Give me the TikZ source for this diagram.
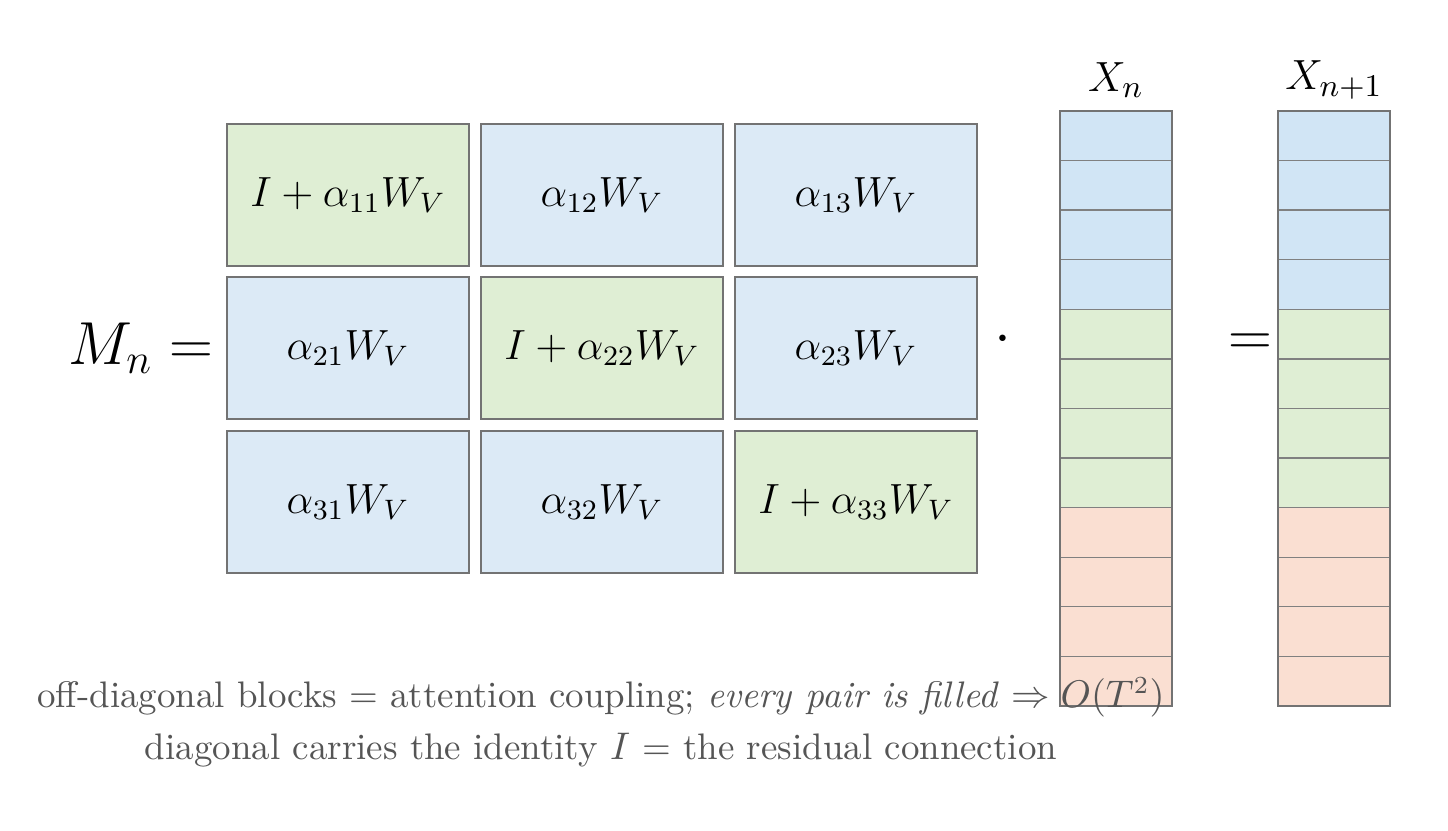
\documentclass[tikz,border=0pt]{standalone}
\usepackage{amssymb}
\begin{document}
\begin{tikzpicture}[x=0.01cm,y=-0.01cm,
  blk/.style={draw=black!55,line width=0.5pt},
  gb/.style={blk,fill=grn},
  bb/.style={blk,fill=blu},
  cell/.style={draw=black!50,line width=0.4pt},
  mt/.style={font=\fontsize{11.5}{14}\selectfont}]
\definecolor{grn}{HTML}{DFEED4}
\definecolor{blu}{HTML}{DCEAF6}
\definecolor{vblu}{HTML}{D1E5F5}
\definecolor{org}{HTML}{FADFD2}
\definecolor{txt}{HTML}{555555}
\useasboundingbox (0,0) rectangle (1448,831);
% matrix blocks
\foreach \r/\yt/\yb in {1/124/266,2/277/419,3/431/573}{
 \foreach \c/\xl/\xr in {1/227/469,2/481/723,3/735/977}{
  \ifnum\r=\c
   \draw[gb] (\xl,\yt) rectangle (\xr,\yb) node[midway,mt] (b\r\c) {};
  \else
   \draw[bb] (\xl,\yt) rectangle (\xr,\yb) node[midway,mt] (b\r\c) {};
  \fi
 }}
\node[mt] at (348,195) {$I+\alpha_{11}W_V$};
\node[mt] at (602,195) {$\alpha_{12}W_V$};
\node[mt] at (856,195) {$\alpha_{13}W_V$};
\node[mt] at (348,348) {$\alpha_{21}W_V$};
\node[mt] at (602,348) {$I+\alpha_{22}W_V$};
\node[mt] at (856,348) {$\alpha_{23}W_V$};
\node[mt] at (348,502) {$\alpha_{31}W_V$};
\node[mt] at (602,502) {$\alpha_{32}W_V$};
\node[mt] at (856,502) {$I+\alpha_{33}W_V$};
\node[font=\fontsize{16.5}{20}\selectfont] (mn) at (141,348) {$M_n=$};
\node[font=\fontsize{16}{20}\selectfont] (dot) at (1003,340) {$\cdot$};
\node[font=\fontsize{16.5}{20}\selectfont] (eq) at (1250,345) {$=$};
% vectors
\foreach \xl/\nm in {1060/xn,1278/xm}{
 \foreach \i in {0,...,11}{
  \pgfmathsetmacro\yt{111+\i*49.58}
  \pgfmathsetmacro\yb{111+(\i+1)*49.58}
  \ifnum\i<4 \def\fc{vblu}\else\ifnum\i<8 \def\fc{grn}\else\def\fc{org}\fi\fi
  \draw[cell,fill=\fc] (\xl,\yt) rectangle ({\xl+112},\yb);
 }
 \draw[blk] (\xl,111) rectangle ({\xl+112},706);
}
\node[font=\fontsize{12.5}{15}\selectfont] (lxn) at (1116,80) {$X_n$};
\node[font=\fontsize{12.5}{15}\selectfont] (lxm) at (1334,80) {$X_{n+1}$};
\node[text=txt,font=\fontsize{10.5}{13}\selectfont] (t1) at (601,697) {off-diagonal blocks = attention coupling; \textit{every pair is filled} $\Rightarrow O(T^2)$};
\node[text=txt,font=\fontsize{10.5}{13}\selectfont] (t2) at (601,750) {diagonal carries the identity $I$ = the residual connection};
\end{tikzpicture}
\end{document}
